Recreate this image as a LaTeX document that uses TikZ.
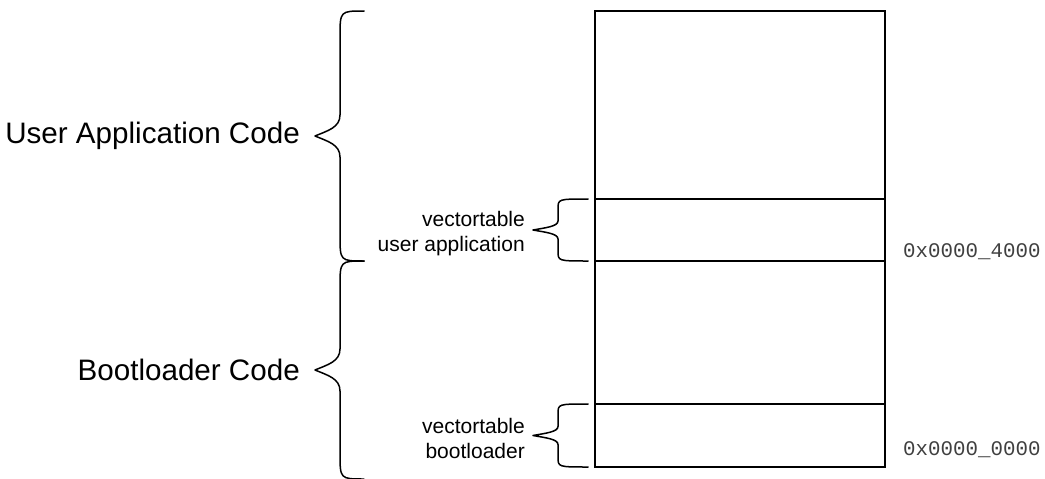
\documentclass[tikz,border=0pt]{standalone}
\usepackage{fontspec}
\setmainfont{Liberation Sans}
\newfontfamily\addrfont{Liberation Mono}

% curly brace opening to the right, tip pointing left
% #1 end x, #2 spine x, #3 tip x, #4 top y, #5 bottom y, #6 end radius, #7 tip radius
\newcommand{\membrace}[7]{%
  \pgfmathsetmacro\bmid{(#4+#5)/2}%
  \pgfmathsetmacro\bhalf{(#2+#3)/2}%
  \draw[bracelines] (#1,#4) .. controls (#2,#4) .. (#2,#4+#6)
    -- (#2,\bmid-#7)
    .. controls (#2,\bmid-0.4*#7) and (\bhalf,\bmid-0.25*#7) .. (#3,\bmid)
    .. controls (\bhalf,\bmid+0.25*#7) and (#2,\bmid+0.4*#7) .. (#2,\bmid+#7)
    -- (#2,#5-#6) .. controls (#2,#5) .. (#1,#5);%
}

\tikzset{
  bracelines/.style={line width=1.5pt, line cap=round, line join=round},
  memline/.style={line width=1.6pt},
  bigtext/.style={inner sep=0pt, anchor=east, font=\fontsize{29.6}{34}\selectfont},
  smalltext/.style={inner sep=0pt, anchor=east, align=right, font=\fontsize{21}{25}\selectfont},
  addr/.style={inner sep=0pt, anchor=west, text=black!75, font=\addrfont\fontsize{20.8}{24}\selectfont},
}

\begin{document}
\begin{tikzpicture}[x=1pt, y=-1pt]
\useasboundingbox (0,0) rectangle (1045,479);

% memory map
\coordinate (topL) at (595,11);
\coordinate (botR) at (885,467);
\draw[memline] (topL) rectangle (botR);
\draw[memline] (595,199) -- (885,199);
\draw[memline] (595,261) -- (885,261);
\draw[memline] (595,404) -- (885,404);

% braces for the two code areas
\membrace{364}{340}{315}{11}{261}{26}{21}
\membrace{364}{340}{315}{261}{479}{26}{21}

% braces for the vector tables
\membrace{588}{558}{533}{199}{261}{10}{9}
\membrace{588}{558}{533}{404}{467}{10}{9}

% labels
\node[bigtext] (usercode) at (300,136) {User Application Code};
\node[bigtext] (bootcode) at (300,370) {Bootloader Code};
\node[smalltext] (vtuser) at (525,234) {vectortable\\user application};
\node[smalltext] (vtboot) at (525,438) {vectortable\\bootloader};

% addresses
\node[addr] (a4000) at (903,252) {0x0000\_4000};
\node[addr] (a0000) at (903,450) {0x0000\_0000};
\end{tikzpicture}
\end{document}
